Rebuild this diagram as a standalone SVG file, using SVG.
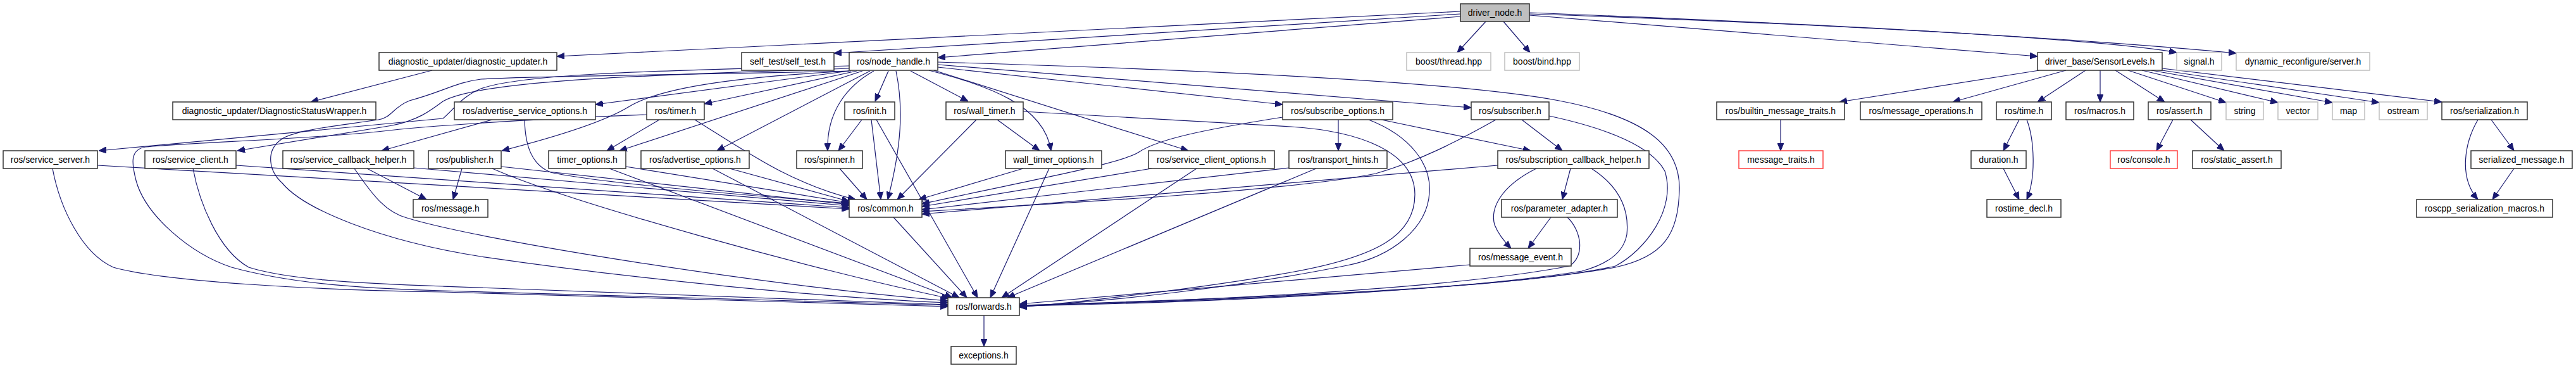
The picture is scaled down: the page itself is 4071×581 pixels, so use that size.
<svg xmlns="http://www.w3.org/2000/svg" width="4071" height="581" viewBox="0 0 4071 581">
<style>
.n rect{fill:#fff;stroke:#333;stroke-width:1.5}
.n.g rect{stroke:#bfbfbf}
.n.r rect{stroke:#ff4040}
.n.root rect{fill:#bfbfbf}
.n text{font-family:"Liberation Sans",Arial,sans-serif;font-size:14px;fill:#000;text-anchor:middle}
.e path{fill:none;stroke:#191970;stroke-width:1.2;marker-end:url(#a)}
</style>
<defs>
<marker id="a" viewBox="0 0 12 10" refX="12" refY="5" markerWidth="12" markerHeight="10" markerUnits="userSpaceOnUse" orient="auto">
<path d="M0,0 L12,5 L0,10 z" fill="#191970" stroke="#191970"/>
</marker>
</defs>
<rect width="4071" height="581" fill="#fff"/>
<g id="connectors" class="e">
<path d="M2308,18 L880,89"/>
<path d="M2308,22 L1318,84"/>
<path d="M2308,26 L1482,91"/>
<path d="M2348,34 L2303,83"/>
<path d="M2376,34 L2418,83"/>
<path d="M2417,24 L3220,89"/>
<path d="M2417,20 C2800,35 3300,58 3440,83"/>
<path d="M2417,22 C2900,38 3300,62 3534,84"/>
<path d="M1342,112 L941,165"/>
<path d="M1354,112 L1113,164"/>
<path d="M1363,112 L979,238"/>
<path d="M1375,112 L1133,238"/>
<path d="M1381,112 C1340,135 1306,175 1308,238"/>
<path d="M1404,112 L1383,160"/>
<path d="M1416,112 C1428,170 1425,230 1403,315"/>
<path d="M1439,112 L1530,160"/>
<path d="M1468,111 C1560,135 1650,165 1661,238"/>
<path d="M1476,111 L1878,238"/>
<path d="M1482,106 L2027,165"/>
<path d="M1482,102 L2325,170"/>
<path d="M1482,98 C1900,110 2300,128 2464,159 C2600,185 2656,230 2654,300 C2652,370 2630,405 2553,422 C2400,450 2100,470 1611,483"/>
<path d="M1345,112 C1150,122 1040,140 993,169 C965,186 910,208 793,238"/>
<path d="M1342,104 C1000,112 820,118 760,140 C730,152 715,175 700,187 L156,238"/>
<path d="M1342,108 C1050,118 760,125 700,160 C680,175 660,190 620,198 L375,238"/>
<path d="M1342,112 C1100,118 820,120 760,125 C720,130 700,145 647,159 C620,170 620,185 598,189 C540,198 460,205 442,222 C420,240 425,270 446,289 C480,330 600,380 760,405 C1000,440 1300,470 1498,478"/>
<path d="M1022,181 C900,186 700,196 596,208 C480,220 300,225 230,232 C205,236 208,258 215,285 C230,340 300,400 366,422 C450,445 550,455 700,459 C1000,468 1300,477 1498,482"/>
<path d="M83,266 C95,330 130,400 179,422 C260,445 500,458 700,461 C1000,468 1300,478 1498,484"/>
<path d="M305,266 C315,320 345,395 393,422 C450,440 550,447 700,452 C1000,462 1300,476 1498,481"/>
<path d="M560,266 C590,310 610,335 643,344 C760,380 1200,450 1498,475"/>
<path d="M683,111 L491,161"/>
<path d="M154,261 L1342,330"/>
<path d="M373,261 L1342,328"/>
<path d="M654,265 L1342,325"/>
<path d="M792,263 L1342,323"/>
<path d="M829,189 C830,230 840,260 870,272 C950,290 1200,310 1342,321"/>
<path d="M989,263 L1342,320"/>
<path d="M1153,266 L1342,318"/>
<path d="M1098,189 C1180,240 1250,290 1352,315"/>
<path d="M778,189 L603,238"/>
<path d="M1042,189 L959,238"/>
<path d="M730,266 L716,315"/>
<path d="M580,266 L674,315"/>
<path d="M778,266 C900,320 1300,430 1500,471"/>
<path d="M963,266 L1505,470"/>
<path d="M1126,266 L1516,470"/>
<path d="M1362,189 L1325,238"/>
<path d="M1377,189 L1392,315"/>
<path d="M1385,189 L1545,470"/>
<path d="M1327,266 L1370,315"/>
<path d="M1412,343 L1528,470"/>
<path d="M1543,189 L1418,315"/>
<path d="M1576,189 L1643,238"/>
<path d="M1617,176 L2040,200 C2150,207 2236,240 2236,307 C2236,370 2180,405 2040,430 C1900,455 1700,478 1611,485"/>
<path d="M2163,189 C2230,215 2262,260 2259,304 C2256,360 2200,405 2129,419 C1950,455 1750,476 1611,484"/>
<path d="M2115,189 L2115,238"/>
<path d="M2183,189 L2419,238"/>
<path d="M2027,185 C1900,205 1830,220 1800,240 C1770,260 1600,290 1457,322"/>
<path d="M2037,265 L1457,331"/>
<path d="M2080,266 L1592,470"/>
<path d="M1820,266 L1457,326"/>
<path d="M1891,266 L1583,470"/>
<path d="M1617,266 L1452,315"/>
<path d="M1658,266 L1565,470"/>
<path d="M2405,189 L2469,238"/>
<path d="M2364,189 C2300,225 2240,255 2174,274 C2050,300 1700,320 1457,334"/>
<path d="M2448,183 C2550,205 2611,233 2631,270 C2650,330 2600,395 2553,420 C2400,455 2000,470 1611,482"/>
<path d="M2482,266 L2469,315"/>
<path d="M2428,266 C2370,295 2355,330 2362,355 C2368,370 2378,382 2388,392"/>
<path d="M2515,266 C2560,295 2575,330 2571,370 C2565,405 2530,420 2500,428 C2300,460 1900,478 1611,483"/>
<path d="M2367,261 L1457,338"/>
<path d="M2451,343 L2415,392"/>
<path d="M2477,343 C2500,365 2505,405 2480,420 C2300,455 1900,476 1611,482"/>
<path d="M2323,418 L1611,480"/>
<path d="M1555,498 L1555,547"/>
<path d="M3223,111 L2907,161"/>
<path d="M3265,111 L3086,161"/>
<path d="M3296,111 L3220,161"/>
<path d="M3319,111 L3319,161"/>
<path d="M3343,111 L3421,161"/>
<path d="M3363,111 L3518,162"/>
<path d="M3385,111 L3600,162"/>
<path d="M3400,111 L3686,162"/>
<path d="M3410,110 L3760,162"/>
<path d="M3417,108 L3859,161"/>
<path d="M2814,189 L2814,238"/>
<path d="M3191,189 L3166,238"/>
<path d="M3203,189 C3215,220 3218,280 3203,315"/>
<path d="M3166,266 L3191,315"/>
<path d="M3434,189 L3408,238"/>
<path d="M3462,189 L3515,238"/>
<path d="M3937,189 L3973,238"/>
<path d="M3916,189 C3895,225 3885,280 3916,315"/>
<path d="M3973,266 L3939,315"/>
</g>
<g id="driver_node" class="n root"><rect x="2308" y="6" width="109" height="28"/><text x="2362.5" y="25">driver_node.h</text></g>
<g id="diag_updater" class="n"><rect x="599" y="83" width="281" height="28"/><text x="739.5" y="102">diagnostic_updater/diagnostic_updater.h</text></g>
<g id="self_test" class="n"><rect x="1172" y="83" width="146" height="28"/><text x="1245" y="102">self_test/self_test.h</text></g>
<g id="node_handle" class="n"><rect x="1342" y="83" width="140" height="28"/><text x="1412" y="102">ros/node_handle.h</text></g>
<g id="boost_thread" class="n g"><rect x="2223" y="83" width="133" height="28"/><text x="2289.5" y="102">boost/thread.hpp</text></g>
<g id="boost_bind" class="n g"><rect x="2378" y="83" width="118" height="28"/><text x="2437" y="102">boost/bind.hpp</text></g>
<g id="sensor_levels" class="n"><rect x="3220" y="83" width="197" height="28"/><text x="3318.5" y="102">driver_base/SensorLevels.h</text></g>
<g id="signal" class="n g"><rect x="3440" y="83" width="71" height="28"/><text x="3475.5" y="102">signal.h</text></g>
<g id="dynrec" class="n g"><rect x="3534" y="83" width="211" height="28"/><text x="3639.5" y="102">dynamic_reconfigure/server.h</text></g>
<g id="dsw" class="n"><rect x="273" y="161" width="321" height="28"/><text x="433.5" y="180">diagnostic_updater/DiagnosticStatusWrapper.h</text></g>
<g id="adv_srv_opts" class="n"><rect x="718" y="161" width="223" height="28"/><text x="829.5" y="180">ros/advertise_service_options.h</text></g>
<g id="timer" class="n"><rect x="1022" y="161" width="91" height="28"/><text x="1067.5" y="180">ros/timer.h</text></g>
<g id="init" class="n"><rect x="1335" y="161" width="79" height="28"/><text x="1374.5" y="180">ros/init.h</text></g>
<g id="wall_timer" class="n"><rect x="1495" y="161" width="122" height="28"/><text x="1556" y="180">ros/wall_timer.h</text></g>
<g id="subscribe_opts" class="n"><rect x="2027" y="161" width="174" height="28"/><text x="2114" y="180">ros/subscribe_options.h</text></g>
<g id="subscriber" class="n"><rect x="2325" y="161" width="123" height="28"/><text x="2386.5" y="180">ros/subscriber.h</text></g>
<g id="builtin_mt" class="n"><rect x="2713" y="161" width="202" height="28"/><text x="2814" y="180">ros/builtin_message_traits.h</text></g>
<g id="msg_ops" class="n"><rect x="2940" y="161" width="192" height="28"/><text x="3036" y="180">ros/message_operations.h</text></g>
<g id="time" class="n"><rect x="3155" y="161" width="87" height="28"/><text x="3198.5" y="180">ros/time.h</text></g>
<g id="macros" class="n"><rect x="3265" y="161" width="107" height="28"/><text x="3318.5" y="180">ros/macros.h</text></g>
<g id="assert" class="n"><rect x="3395" y="161" width="99" height="28"/><text x="3444.5" y="180">ros/assert.h</text></g>
<g id="string" class="n g"><rect x="3518" y="161" width="59" height="28"/><text x="3547.5" y="180">string</text></g>
<g id="vector" class="n g"><rect x="3600" y="161" width="63" height="28"/><text x="3631.5" y="180">vector</text></g>
<g id="map" class="n g"><rect x="3686" y="161" width="51" height="28"/><text x="3711.5" y="180">map</text></g>
<g id="ostream" class="n g"><rect x="3760" y="161" width="76" height="28"/><text x="3798" y="180">ostream</text></g>
<g id="serialization" class="n"><rect x="3859" y="161" width="135" height="28"/><text x="3926.5" y="180">ros/serialization.h</text></g>
<g id="service_server" class="n"><rect x="5" y="238" width="149" height="28"/><text x="79.5" y="257">ros/service_server.h</text></g>
<g id="service_client" class="n"><rect x="229" y="238" width="144" height="28"/><text x="301" y="257">ros/service_client.h</text></g>
<g id="srv_cb_helper" class="n"><rect x="447" y="238" width="207" height="28"/><text x="550.5" y="257">ros/service_callback_helper.h</text></g>
<g id="publisher" class="n"><rect x="677" y="238" width="115" height="28"/><text x="734.5" y="257">ros/publisher.h</text></g>
<g id="timer_options" class="n"><rect x="867" y="238" width="122" height="28"/><text x="928" y="257">timer_options.h</text></g>
<g id="adv_opts" class="n"><rect x="1013" y="238" width="171" height="28"/><text x="1098.5" y="257">ros/advertise_options.h</text></g>
<g id="spinner" class="n"><rect x="1259" y="238" width="104" height="28"/><text x="1311" y="257">ros/spinner.h</text></g>
<g id="wt_options" class="n"><rect x="1589" y="238" width="152" height="28"/><text x="1665" y="257">wall_timer_options.h</text></g>
<g id="sc_options" class="n"><rect x="1815" y="238" width="199" height="28"/><text x="1914.5" y="257">ros/service_client_options.h</text></g>
<g id="transport_hints" class="n"><rect x="2037" y="238" width="155" height="28"/><text x="2114.5" y="257">ros/transport_hints.h</text></g>
<g id="sub_cb_helper" class="n"><rect x="2367" y="238" width="239" height="28"/><text x="2486.5" y="257">ros/subscription_callback_helper.h</text></g>
<g id="message_traits" class="n r"><rect x="2748" y="238" width="133" height="28"/><text x="2814.5" y="257">message_traits.h</text></g>
<g id="duration" class="n"><rect x="3115" y="238" width="87" height="28"/><text x="3158.5" y="257">duration.h</text></g>
<g id="console" class="n r"><rect x="3335" y="238" width="106" height="28"/><text x="3388" y="257">ros/console.h</text></g>
<g id="static_assert" class="n"><rect x="3465" y="238" width="140" height="28"/><text x="3535" y="257">ros/static_assert.h</text></g>
<g id="serialized_msg" class="n"><rect x="3905" y="238" width="160" height="28"/><text x="3985" y="257">serialized_message.h</text></g>
<g id="message" class="n"><rect x="653" y="315" width="118" height="28"/><text x="712" y="334">ros/message.h</text></g>
<g id="common" class="n"><rect x="1342" y="315" width="115" height="28"/><text x="1399.5" y="334">ros/common.h</text></g>
<g id="param_adapter" class="n"><rect x="2373" y="315" width="183" height="28"/><text x="2464.5" y="334">ros/parameter_adapter.h</text></g>
<g id="rostime_decl" class="n"><rect x="3140" y="315" width="117" height="28"/><text x="3198.5" y="334">rostime_decl.h</text></g>
<g id="roscpp_sm" class="n"><rect x="3819" y="315" width="215" height="28"/><text x="3926.5" y="334">roscpp_serialization_macros.h</text></g>
<g id="message_event" class="n"><rect x="2323" y="392" width="160" height="28"/><text x="2403" y="411">ros/message_event.h</text></g>
<g id="forwards" class="n"><rect x="1498" y="470" width="113" height="28"/><text x="1554.5" y="489">ros/forwards.h</text></g>
<g id="exceptions" class="n"><rect x="1503" y="547" width="103" height="28"/><text x="1554.5" y="566">exceptions.h</text></g>
</svg>
